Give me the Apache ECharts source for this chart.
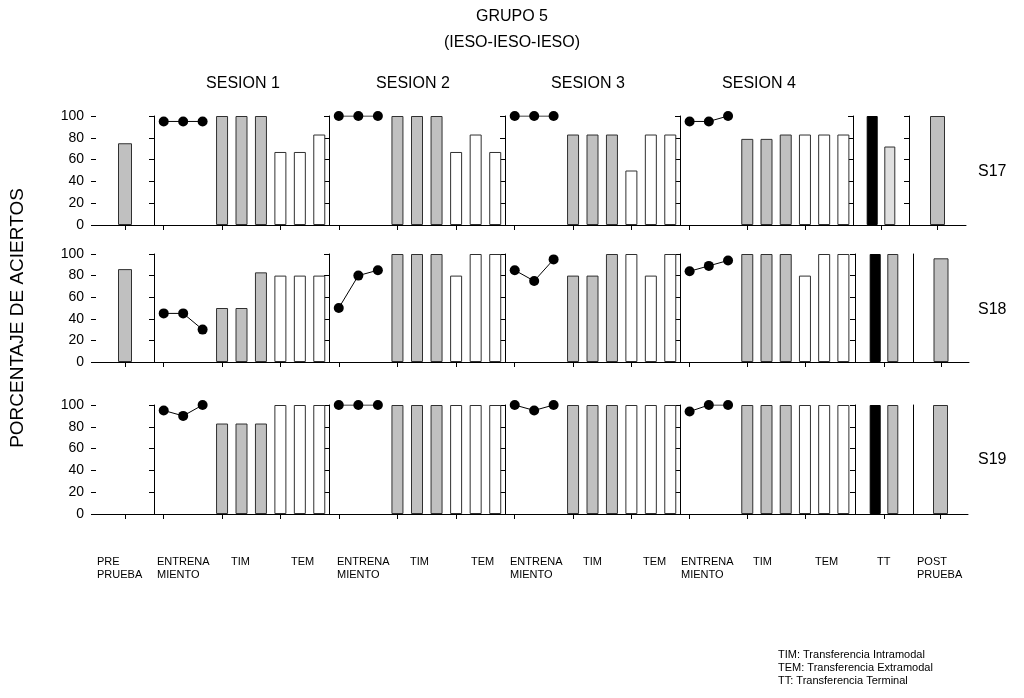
<!DOCTYPE html>
<html>
<head>
<meta charset="utf-8">
<script src="https://cdn.jsdelivr.net/npm/echarts@6/dist/echarts.min.js"></script>
<style>
  html, body { margin: 0; padding: 0; background: #fff; }
  #chart { width: 1024px; height: 698px; }
</style>
</head>
<body>
<div id="chart"></div>
<script>
// ---- data: percentage of correct answers, one row per subject ----
const subjects = ['S17', 'S18', 'S19'];
const sessionNames = ['SESION 1', 'SESION 2', 'SESION 3', 'SESION 4'];
const sessionCategories = ['E1', 'E2', 'E3', 'TIM1', 'TIM2', 'TIM3', 'TEM1', 'TEM2', 'TEM3'];
const yTicks = [0, 20, 40, 60, 80, 100];

const prePrueba = [75, 86, 0];

// training blocks (3 per session)
const entrenamientoS17 = [[95, 95, 95], [100, 100, 100], [100, 100, 100], [95, 95, 100]];
const entrenamientoS18 = [[45, 45, 30], [50, 80, 85], [85, 75, 95], [84, 89, 94]];
const entrenamientoS19 = [[95, 90, 100], [100, 100, 100], [100, 95, 100], [94, 100, 100]];

// intramodal transfer (3 per session)
const timS17 = [[100, 100, 100], [100, 100, 100], [83, 83, 83], [79, 79, 83]];
const timS18 = [[50, 50, 83], [100, 100, 100], [80, 80, 100], [100, 100, 100]];
const timS19 = [[83, 83, 83], [100, 100, 100], [100, 100, 100], [100, 100, 100]];

// extramodal transfer (3 per session)
const temS17 = [[67, 67, 83], [67, 83, 67], [50, 83, 83], [83, 83, 83]];
const temS18 = [[80, 80, 80], [80, 100, 100], [100, 80, 100], [80, 100, 100]];
const temS19 = [[100, 100, 100], [100, 100, 100], [100, 100, 100], [100, 100, 100]];

// terminal transfer: two bars per subject
const ttPrimero = [100, 100, 100];
const ttSegundo = [72, 100, 100];

const postPrueba = [100, 96, 100];

const entrenamiento = [entrenamientoS17, entrenamientoS18, entrenamientoS19];
const tim = [timS17, timS18, timS19];
const tem = [temS17, temS18, temS19];

// bottom captions under the panels
const bottomLabels = [
  ['PRE\nPRUEBA', 97], ['ENTRENA\nMIENTO', 157], ['TIM', 231], ['TEM', 291],
  ['ENTRENA\nMIENTO', 337], ['TIM', 410], ['TEM', 471],
  ['ENTRENA\nMIENTO', 510], ['TIM', 583], ['TEM', 643],
  ['ENTRENA\nMIENTO', 681], ['TIM', 753], ['TEM', 815],
  ['TT', 877], ['POST\nPRUEBA', 917]
];
const legendLines = [
  'TIM: Transferencia Intramodal',
  'TEM: Transferencia Extramodal',
  'TT: Transferencia Terminal'
];

// ---- layout ----
const FONT = '"Liberation Sans", Arial, sans-serif';
const sessionPanelX = [[96, 154], [154, 329], [329, 505], [505, 680], [680, 853]];
// the terminal and post-test panels sit slightly further right in the lower rows
const tailPanelX = [
  [[853, 909], [909, 966]],
  [[855, 913], [913, 969]],
  [[855, 913], [913, 968]]
];
const rowY = [[116, 225], [254, 362], [405, 514]];
const GRAY = '#c0c0c0';
const EDGE = '#303030';
const ttSecondColor = ['#e0e0e0', GRAY, GRAY];

const grids = [], xAxes = [], yAxes = [], series = [];

function blank(n) { return new Array(n).fill('-'); }

rowY.forEach(([y0, y1], r) => {
  const panelX = sessionPanelX.concat(tailPanelX[r]);
  panelX.forEach(([x0, x1], p) => {
    const gi = grids.length;
    grids.push({ left: x0, top: y0, width: x1 - x0, height: y1 - y0, containLabel: false });

    let cats;
    if (p === 0) cats = ['PRE'];
    else if (p <= 4) cats = sessionCategories;
    else if (p === 5) cats = ['TT'];
    else cats = ['POST'];

    xAxes.push({
      gridIndex: gi, type: 'category', data: cats, boundaryGap: true,
      axisLine: { show: true, lineStyle: { color: '#000', width: 1 } },
      axisTick: { show: true, alignWithLabel: true, length: 5, lineStyle: { color: '#000' } },
      axisLabel: { show: false }, splitLine: { show: false }
    });

    const showTicks = !(p === 6 && r > 0);
    yAxes.push({
      gridIndex: gi, type: 'value', min: 0, max: 100, interval: 20,
      axisLine: { show: p !== 0, lineStyle: { color: '#000', width: 1 } },
      axisTick: { show: showTicks, length: 5, lineStyle: { color: '#000' } },
      axisLabel: {
        show: p === 0, margin: 12, color: '#000', fontSize: 14, fontFamily: FONT,
        formatter: v => (yTicks.indexOf(v) >= 0 ? String(v) : '')
      },
      splitLine: { show: false }
    });

    const barBase = {
      type: 'bar', xAxisIndex: gi, yAxisIndex: gi, barGap: '-100%', silent: true
    };

    if (p === 0) {
      series.push(Object.assign({}, barBase, {
        barWidth: 14, data: [prePrueba[r] || '-'],
        itemStyle: { color: GRAY, borderColor: EDGE, borderWidth: 1 }
      }));
    } else if (p <= 4) {
      const s = p - 1;
      const timData = blank(9), temData = blank(9);
      tim[r][s].forEach((v, i) => { timData[3 + i] = v; });
      tem[r][s].forEach((v, i) => { temData[6 + i] = v; });
      series.push(Object.assign({}, barBase, {
        barWidth: 12, data: timData,
        itemStyle: { color: GRAY, borderColor: EDGE, borderWidth: 1 }
      }));
      series.push(Object.assign({}, barBase, {
        barWidth: 12, data: temData,
        itemStyle: { color: '#ffffff', borderColor: EDGE, borderWidth: 1 }
      }));
      series.push({
        type: 'line', xAxisIndex: gi, yAxisIndex: gi, z: 5,
        data: entrenamiento[r][s].slice(),
        symbol: 'circle', symbolSize: 10, showSymbol: true,
        itemStyle: { color: '#000' },
        lineStyle: { color: '#000', width: 1 }, silent: true
      });
    } else if (p === 5) {
      series.push({
        type: 'bar', xAxisIndex: gi, yAxisIndex: gi, barWidth: 11, barGap: '60%',
        data: [ttPrimero[r]],
        itemStyle: { color: '#000', borderColor: '#000', borderWidth: 1 }, silent: true
      });
      series.push({
        type: 'bar', xAxisIndex: gi, yAxisIndex: gi, barWidth: 11, barGap: '60%',
        data: [ttSegundo[r]],
        itemStyle: { color: ttSecondColor[r], borderColor: EDGE, borderWidth: 1 }, silent: true
      });
    } else {
      series.push(Object.assign({}, barBase, {
        barWidth: 15, data: [postPrueba[r]],
        itemStyle: { color: GRAY, borderColor: EDGE, borderWidth: 1 }
      }));
    }
  });
});

// ---- text elements ----
const textStyle = (extra) => Object.assign({ fill: '#000', fontFamily: FONT }, extra);
const graphics = [];

graphics.push({ type: 'text', left: 'center', top: 9,
  style: textStyle({ text: 'GRUPO 5', fontSize: 16, textAlign: 'center' }) });
graphics.push({ type: 'text', left: 'center', top: 35,
  style: textStyle({ text: '(IESO-IESO-IESO)', fontSize: 16, textAlign: 'center' }) });

const sessionCenters = [243, 413, 588, 759];
sessionNames.forEach((name, i) => {
  graphics.push({ type: 'text', x: sessionCenters[i], y: 84,
    style: textStyle({ text: name, fontSize: 16, textAlign: 'center', textVerticalAlign: 'middle' }) });
});

subjects.forEach((name, i) => {
  const yc = [172, 310, 460][i];
  graphics.push({ type: 'text', x: 978, y: yc,
    style: textStyle({ text: name, fontSize: 16, textAlign: 'left', textVerticalAlign: 'middle' }) });
});

graphics.push({ type: 'text', x: 18, y: 318, rotation: Math.PI / 2,
  style: textStyle({ text: 'PORCENTAJE DE ACIERTOS', fontSize: 19, textAlign: 'center', textVerticalAlign: 'middle' }) });

bottomLabels.forEach(([txt, x]) => {
  graphics.push({ type: 'text', x: x, y: 555,
    style: textStyle({ text: txt, fontSize: 11, lineHeight: 13, textAlign: 'left', textVerticalAlign: 'top' }) });
});

legendLines.forEach((txt, i) => {
  graphics.push({ type: 'text', x: 778, y: 649 + i * 13,
    style: textStyle({ text: txt, fontSize: 11, textAlign: 'left', textVerticalAlign: 'top' }) });
});

const chart = echarts.init(document.getElementById('chart'), null, { renderer: 'canvas' });
chart.setOption({
  animation: false,
  backgroundColor: '#ffffff',
  grid: grids,
  xAxis: xAxes,
  yAxis: yAxes,
  series: series,
  graphic: graphics
});
</script>
</body>
</html>
